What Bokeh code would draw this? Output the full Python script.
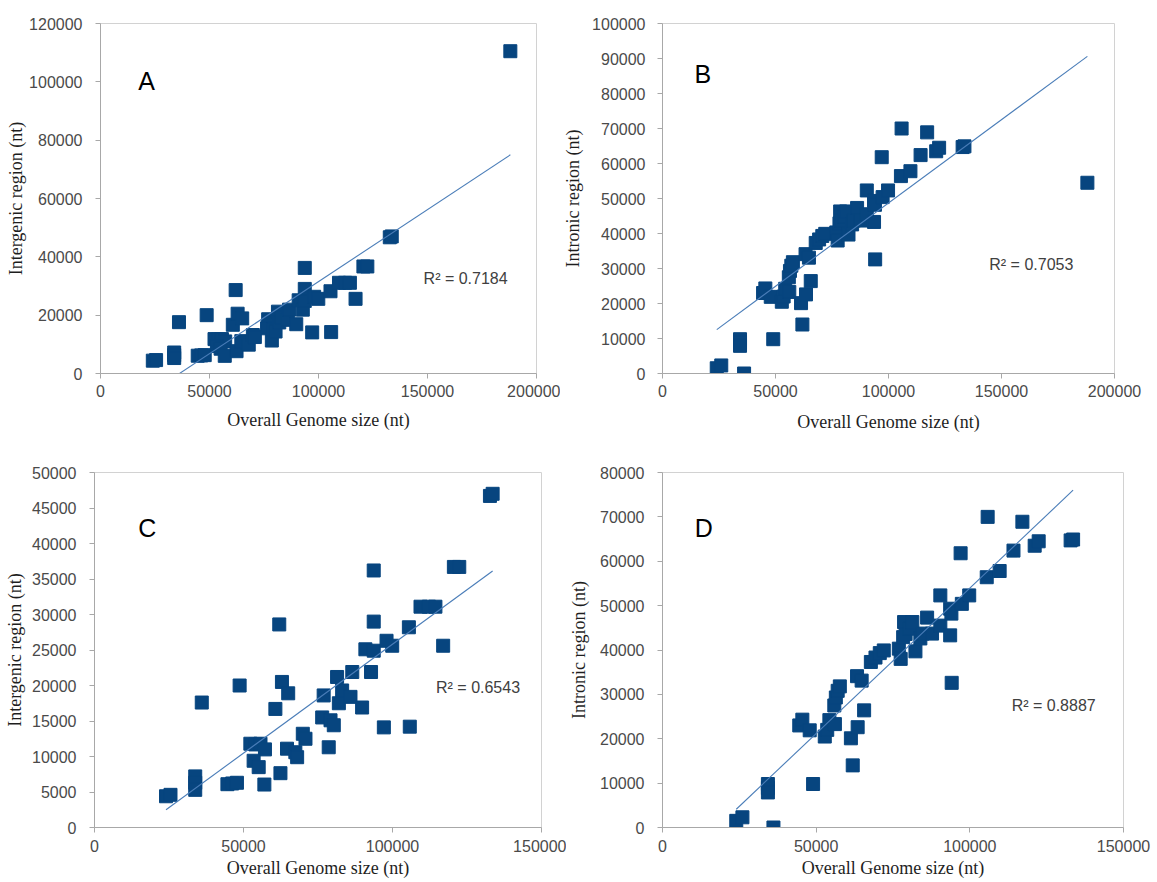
import numpy as np
from bokeh.plotting import figure
from bokeh.models import Range1d, Label, SingleIntervalTicker, BasicTickFormatter
from bokeh.layouts import row, column
from bokeh.embed import file_html
from bokeh.resources import INLINE

# ---- data ----
# intergenic region vs overall genome size (panel A = all, panel C = without the 188 kb genome)
ig_genome = [24000, 25500, 33800, 33800, 33800, 36000, 44600, 46200, 47800, 48700,
             52300, 54000, 55700, 57200, 53400, 55100, 57000, 60700, 62000, 62900,
             65000, 62400, 64600, 67400, 68000, 69900, 70800, 76900, 76400, 78600,
             79200, 80300, 81400, 82000, 83100, 85900, 86500, 89800, 90900, 92800,
             93700, 93700, 93700, 97100, 98000, 99900, 105500, 105800, 109400, 112200,
             114400, 117000, 120600, 122400, 132700, 133600, 188000]
ig_length = [4400, 4600, 7200, 6300, 5300, 17600, 6100, 6200, 6300, 20000,
             11800, 11700, 11800, 11000, 9400, 8500, 6050, 16700, 28600, 20500,
             18900, 7650, 11100, 10600, 9900, 13200, 12500, 18600, 15500, 11300,
             15100, 14400, 21200, 17500, 19300, 18400, 21900, 16900, 25100, 21900,
             24900, 29000, 36200, 14100, 26300, 25600, 28200, 14200, 31100, 31100,
             31100, 25600, 36700, 36700, 46700, 47000, 110500]

# intronic region vs overall genome size (panel B = all, panel D = without the 188 kb genome)
in_genome = [24000, 26000, 34300, 34300, 34300, 36100, 44500, 45500, 47900, 49000,
             52800, 53600, 54300, 56100, 55900, 56400, 57000, 57700, 61300, 61900,
             63500, 63300, 64800, 65600, 67800, 69300, 70700, 72000, 76900, 77500,
             78300, 78600, 79100, 80400, 81300, 82300, 83900, 84600, 86100, 87700,
             90400, 90400, 93600, 94000, 93600, 94100, 97000, 97400, 99800, 105500,
             105800, 109700, 114200, 117100, 121100, 122400, 132800, 133600, 188000]
in_length = [1500, 2300, 9800, 8900, 7900, 0, 23000, 24300, 21900, 9800,
             20500, 22000, 24200, 23300, 27500, 29300, 30800, 31800, 20100, 14000,
             22600, 34100, 33100, 26400, 37300, 38300, 39300, 39900, 40300, 38000,
             42900, 46300, 43600, 44800, 46300, 39700, 42600, 43700, 47300, 43700,
             45500, 52300, 49300, 48200, 43300, 32600, 61800, 50400, 52300, 56400,
             70000, 57800, 62400, 68900, 63500, 64500, 64700, 64900, 54500]

# linear trendlines as shown in the reference (y = slope * x + intercept), panels A-D
trend_slope = [0.494, 0.476, 0.3068, 0.656]
trend_intercept = [-17900, 1110, -4865, -11630]

panel_letters = ["A", "B", "C", "D"]
r2_texts = ["R\u00b2 = 0.7184", "R\u00b2 = 0.7053", "R\u00b2 = 0.6543", "R\u00b2 = 0.8887"]
x_title = "Overall Genome size (nt)"
y_titles = ["Intergenic region (nt)", "Intronic region (nt)",
            "Intergenic region (nt)", "Intronic region (nt)"]

MARK = "#07457f"
TREND = "#4a7db8"
AXIS = "#a8a8a8"
TICKTXT = "#4a4a4a"
TITLETXT = "#1e1e1e"


def panel(i, gx, gy, xmax, ymax, xstep, ystep, letter_xy, r2_xy, w, h, bl, br, bt, bb,
          ylab_stand, ystand, xlab_stand, xtitle_stand):
    pts = [(a, b) for a, b in zip(gx, gy) if a <= xmax]
    xs = np.array([p[0] for p in pts], dtype=float)
    ys = np.array([p[1] for p in pts], dtype=float)

    p = figure(width=w, height=h, x_range=Range1d(0, xmax), y_range=Range1d(0, ymax),
               output_backend="svg", toolbar_location=None,
               min_border_left=bl, min_border_right=br, min_border_top=bt, min_border_bottom=bb,
               background_fill_color="white", border_fill_color="white")
    p.xgrid.visible = False
    p.ygrid.visible = False
    p.outline_line_color = "#d2d2d2"
    p.outline_line_width = 1

    p.xaxis.ticker = SingleIntervalTicker(interval=xstep, num_minor_ticks=0)
    p.yaxis.ticker = SingleIntervalTicker(interval=ystep, num_minor_ticks=0)
    for ax in (p.xaxis[0], p.yaxis[0]):
        ax.formatter = BasicTickFormatter(use_scientific=False)
        ax.axis_line_color = AXIS
        ax.major_tick_line_color = AXIS
        ax.minor_tick_line_color = None
        ax.major_tick_out = 5
        ax.major_tick_in = 0
        ax.major_label_text_font = "Liberation Sans"
        ax.major_label_text_font_size = "16px"
        ax.major_label_text_color = TICKTXT
        ax.axis_label_text_font = "Liberation Serif"
        ax.axis_label_text_font_size = "18px"
        ax.axis_label_text_font_style = "normal"
        ax.axis_label_text_color = TITLETXT
    p.xaxis.axis_label = x_title
    p.yaxis.axis_label = y_titles[i]
    p.yaxis.major_label_standoff = ylab_stand
    p.yaxis.axis_label_standoff = ystand
    p.xaxis.major_label_standoff = xlab_stand
    p.xaxis.axis_label_standoff = xtitle_stand

    p.scatter(xs, ys, marker="square", size=13, fill_color=MARK, line_color=MARK, line_width=1)

    xl = np.array([xs.min(), xs.max()])
    p.line(xl, trend_slope[i] * xl + trend_intercept[i], line_color=TREND, line_width=1.1)

    p.add_layout(Label(x=letter_xy[0], y=letter_xy[1], text=panel_letters[i],
                       text_font="Liberation Sans", text_font_size="25px", text_color="black",
                       text_align="center", text_baseline="middle"))
    p.add_layout(Label(x=r2_xy[0], y=r2_xy[1], text=r2_texts[i], text_font="Liberation Sans",
                       text_font_size="16px", text_color="#404040", text_align="left",
                       text_baseline="middle"))
    return p


pA = panel(0, ig_genome, ig_length, 200000, 120000, 50000, 20000,
           (21100, 100300), (148200, 32600), 560, 440, 100, 24, 23, 64, 13, 0, 6, 10)
pB = panel(1, in_genome, in_length, 200000, 100000, 50000, 10000,
           (17800, 85600), (144600, 31100), 597, 440, 99, 43, 19, 67, 12, 6, 6, 12)
pC = panel(2, ig_genome, ig_length, 150000, 50000, 50000, 5000,
           (17700, 42250), (114600, 19700), 566, 442, 94, 25, 32, 55, 13, 4, 7, 3)
pD = panel(3, in_genome, in_length, 150000, 80000, 50000, 10000,
           (13400, 67600), (113600, 27500), 591, 442, 93, 34, 32, 55, 13, 8, 7, 3)

layout = column(row(pA, pB), row(pC, pD))
open("out.html", "w").write(file_html(layout, INLINE))
